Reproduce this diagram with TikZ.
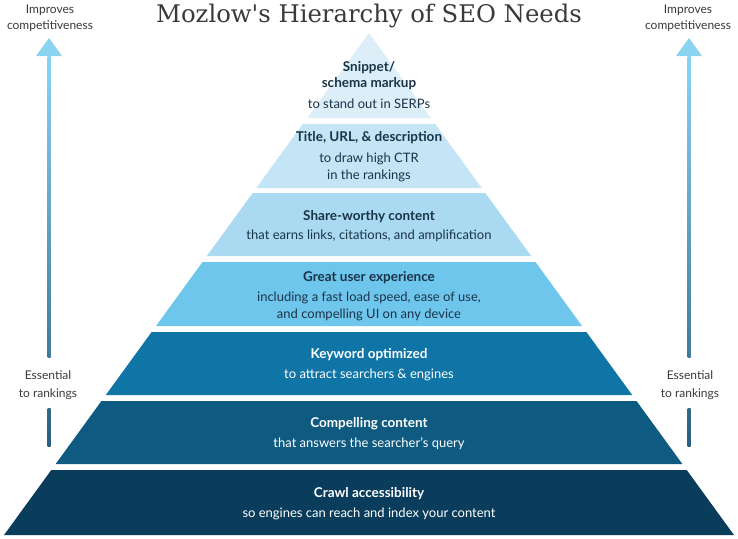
\documentclass[tikz,border=0pt]{standalone}
\usepackage{fontspec}
\usepackage{xcolor}
\setmainfont{Lato}
\newfontfamily\titlefont{DejaVu Serif}
\usetikzlibrary{positioning}
\definecolor{lvla}{HTML}{DCEFF9}
\definecolor{lvlb}{HTML}{C3E5F5}
\definecolor{lvlc}{HTML}{A9DAF1}
\definecolor{lvld}{HTML}{6EC6EC}
\definecolor{lvle}{HTML}{0F74A6}
\definecolor{lvlf}{HTML}{0E5A80}
\definecolor{lvlg}{HTML}{0A3D5B}
\definecolor{edgec}{HTML}{A7C6D6}
\definecolor{navy}{HTML}{1B3347}
\definecolor{greyt}{HTML}{3A3A3A}
\definecolor{arrtop}{HTML}{8AD4F2}
\definecolor{arrbot}{HTML}{2B5F7F}
\tikzset{
    hd/.style={anchor=base, inner sep=0pt, font=\bfseries\fontsize{13.5}{15}\selectfont},
    sub/.style={anchor=base, inner sep=0pt, font=\fontsize{13}{15}\selectfont},
    side/.style={anchor=base, inner sep=0pt, text=greyt, font=\fontsize{12}{14}\selectfont}
}
% one slice of the pyramid: top y, bottom y, colour
\newcommand{\seolayer}[3]{
    \fill[#3] ({369-0.727*(#1-33)}, #1) -- ({369+0.727*(#1-33)}, #1)
        -- ({369+0.727*(#2-33)}, #2) -- ({369-0.727*(#2-33)}, #2) -- cycle;
}
% side arrow with a gap for the label
\newcommand{\seoarrow}[2]{
    \coordinate (#1tip) at (#2, 38);
    \coordinate (#1neck) at (#2, 56);
    \coordinate (#1gapa) at (#2, 357);
    \coordinate (#1gapb) at (#2, 408);
    \coordinate (#1foot) at (#2, 446);
    \shade[top color=arrtop, bottom color=arrbot!77!arrtop]
        ([xshift=-1.5]#1neck) rectangle ([xshift=1.5]#1gapa);
    \shade[top color=arrbot!90!arrtop, bottom color=arrbot]
        ([xshift=-1.5]#1gapb) rectangle ([xshift=1.5]#1foot);
    \fill[arrtop] ([xshift=-13]#1neck) -- ([xshift=13]#1neck) -- (#1tip) -- cycle;
}

\begin{document}
\begin{tikzpicture}[x=1pt, y=-1pt]
    \useasboundingbox[fill=white] (0, 0) rectangle (738, 538);

    \node[anchor=base, inner sep=0pt, text=greyt, font=\titlefont\fontsize{24.3}{26}\selectfont]
        (title) at (369, 22) {Mozlow's Hierarchy of SEO Needs};

    % pyramid
    \seolayer{33}{118}{lvla}
    \seolayer{124}{188}{lvlb}
    \seolayer{193}{256}{lvlc}
    \seolayer{262}{326}{lvld}
    \seolayer{332}{395}{lvle}
    \seolayer{401}{464}{lvlf}
    \seolayer{470}{535}{lvlg}

    \node[hd, text=navy] (snip) at (369, 71.5) {Snippet/};
    \node[hd, text=navy] (schema) at (369, 87) {schema markup};
    \node[sub, text=navy] (snipsub) at (369, 108.5) {to stand out in SERPs};

    \node[hd, text=navy] (title2) at (369, 141.5) {Title, URL, \& description};
    \node[sub, text=navy] (ctr) at (369, 162.5) {to draw high CTR};
    \node[sub, text=navy] (ctrb) at (369, 179) {in the rankings};

    \node[hd, text=navy] (share) at (369, 220) {Share-worthy content};
    \node[sub, text=navy] (sharesub) at (369, 239.5) {that earns links, citations, and amplification};

    \node[hd, text=navy] (ux) at (369, 281.5) {Great user experience};
    \node[sub, text=navy] (uxa) at (369, 301) {including a fast load speed, ease of use,};
    \node[sub, text=navy] (uxb) at (369, 318) {and compelling UI on any device};

    \node[hd, text=white] (kw) at (369, 358) {Keyword optimized};
    \node[sub, text=white] (kwsub) at (369, 378) {to attract searchers \& engines};

    \node[hd, text=white] (cc) at (369, 427) {Compelling content};
    \node[sub, text=white] (ccsub) at (369, 447.5) {that answers the searcher’s query};

    \node[hd, text=white] (crawl) at (369, 497.5) {Crawl accessibility};
    \node[sub, text=white] (crawlsub) at (369, 517.5) {so engines can reach and index your content};

    % side arrows
    \seoarrow{l}{49}
    \seoarrow{r}{689}

    \node[side] (limpa) at (50, 13) {Improves};
    \node[side] (limpb) at (50, 29) {competitiveness};
    \node[side] (lessa) at (48, 379) {Essential};
    \node[side] (lessb) at (48, 397) {to rankings};

    \node[side] (rimpa) at (688, 13) {Improves};
    \node[side] (rimpb) at (688, 29) {competitiveness};
    \node[side] (ressa) at (690, 379) {Essential};
    \node[side] (ressb) at (690, 397) {to rankings};
\end{tikzpicture}
\end{document}
